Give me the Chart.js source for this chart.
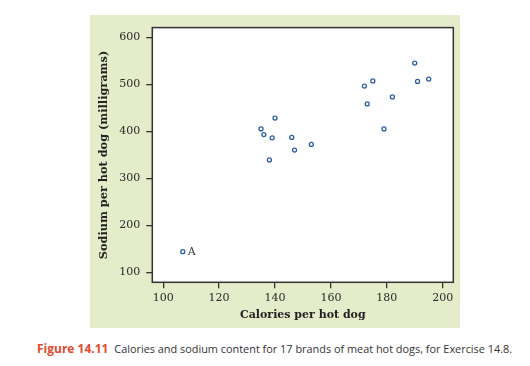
<!DOCTYPE html>
<html>
<head>
<meta charset="utf-8">
<script src="https://cdn.jsdelivr.net/npm/chart.js@4"></script>
<style>
  body { margin: 0; background: #fff; width: 530px; height: 366px; position: relative; overflow: hidden; }
  #panel { position: absolute; left: 90px; top: 15px; width: 370px; height: 313px; background: #e4ecca; }
  #caption { position: absolute; left: 37px; top: 340px; font-family: "Open Sans", sans-serif; font-size: 10.9px; color: #333; white-space: nowrap; }
  #caption b { color: #e2492b; font-size: 12px; margin-right: 3px; }
</style>
</head>
<body>
<div id="panel"><canvas id="hotdogChart" width="370" height="313"></canvas></div>
<div id="caption"><b>Figure 14.11</b> Calories and sodium content for 17 brands of meat hot dogs, for Exercise 14.8.</div>
<script>
// Calories and sodium for 17 meat hot dog brands
const calories = [173, 191, 182, 190, 172, 147, 146, 139, 175, 136, 179, 153, 107, 195, 135, 140, 138];
const sodium = [458, 506, 473, 545, 496, 360, 387, 386, 507, 393, 405, 372, 144, 511, 405, 428, 339];
const pointNames = ['', '', '', '', '', '', '', '', '', '', '', '', 'A', '', '', '', ''];

const xTicks = [100, 120, 140, 160, 180, 200];
const yTicks = [100, 200, 300, 400, 500, 600];

const serif = '"DejaVu Serif", serif';

// white plot box with a dark frame
const frame = {
    id: 'frame',
    beforeDraw(chart) {
        const a = chart.chartArea, ctx = chart.ctx;
        ctx.save();
        ctx.fillStyle = '#fff';
        ctx.fillRect(a.left, a.top, a.right - a.left, a.bottom - a.top);
        ctx.restore();
    },
    afterDraw(chart) {
        const a = chart.chartArea, ctx = chart.ctx;
        ctx.save();
        ctx.strokeStyle = '#333';
        ctx.lineWidth = 1.5;
        ctx.strokeRect(a.left, a.top, a.right - a.left, a.bottom - a.top);
        // point names (brand A)
        const meta = chart.getDatasetMeta(0);
        ctx.fillStyle = '#333';
        ctx.font = '11px ' + serif;
        ctx.textBaseline = 'middle';
        pointNames.forEach((n, i) => {
            if (!n) return;
            const p = meta.data[i];
            ctx.fillText(n, p.x + 5, p.y);
        });
        ctx.restore();
    }
};

const config = {
    type: 'scatter',
    data: {
        datasets: [{
            data: calories.map((c, i) => ({ x: c, y: sodium[i] })),
            pointRadius: 2,
            pointBorderWidth: 1.3,
            pointBackgroundColor: '#fff',
            pointBorderColor: '#2b5ca6'
        }]
    },
    options: {
        responsive: false,
        animation: false,
        layout: { padding: { top: 9, right: 6.7, left: 0, bottom: 0 } },
        plugins: { legend: { display: false }, tooltip: { enabled: false } },
        scales: {
            x: {
                min: 96.1,
                max: 203.8,
                afterBuildTicks: s => { s.ticks = xTicks.map(v => ({ value: v })); },
                afterFit: s => { s.height = 45.7; },
                grid: { drawOnChartArea: false, drawTicks: true, tickLength: 6, color: '#333', lineWidth: 1.3 },
                border: { display: false },
                ticks: { padding: 3, color: '#2a2a2a', font: { family: serif, size: 11 } },
                title: { display: true, text: 'Calories per hot dog', color: '#222', padding: { top: 0, bottom: 6 }, font: { family: serif, size: 11, weight: 'bold' } }
            },
            y: {
                min: 79,
                max: 620.3,
                afterBuildTicks: s => { s.ticks = yTicks.map(v => ({ value: v })); },
                afterFit: s => { s.width = 62.3; },
                grid: { drawOnChartArea: false, drawTicks: true, tickLength: 6, color: '#333', lineWidth: 1.3 },
                border: { display: false },
                ticks: { padding: 6, color: '#2a2a2a', font: { family: serif, size: 11 } },
                title: { display: true, text: 'Sodium per hot dog (milligrams)', color: '#222', padding: { top: 7, bottom: 0 }, font: { family: serif, size: 11.3, weight: 'bold' } }
            }
        }
    },
    plugins: [frame]
};

const hotdogChart = new Chart(document.getElementById('hotdogChart'), config);
</script>
</body>
</html>
